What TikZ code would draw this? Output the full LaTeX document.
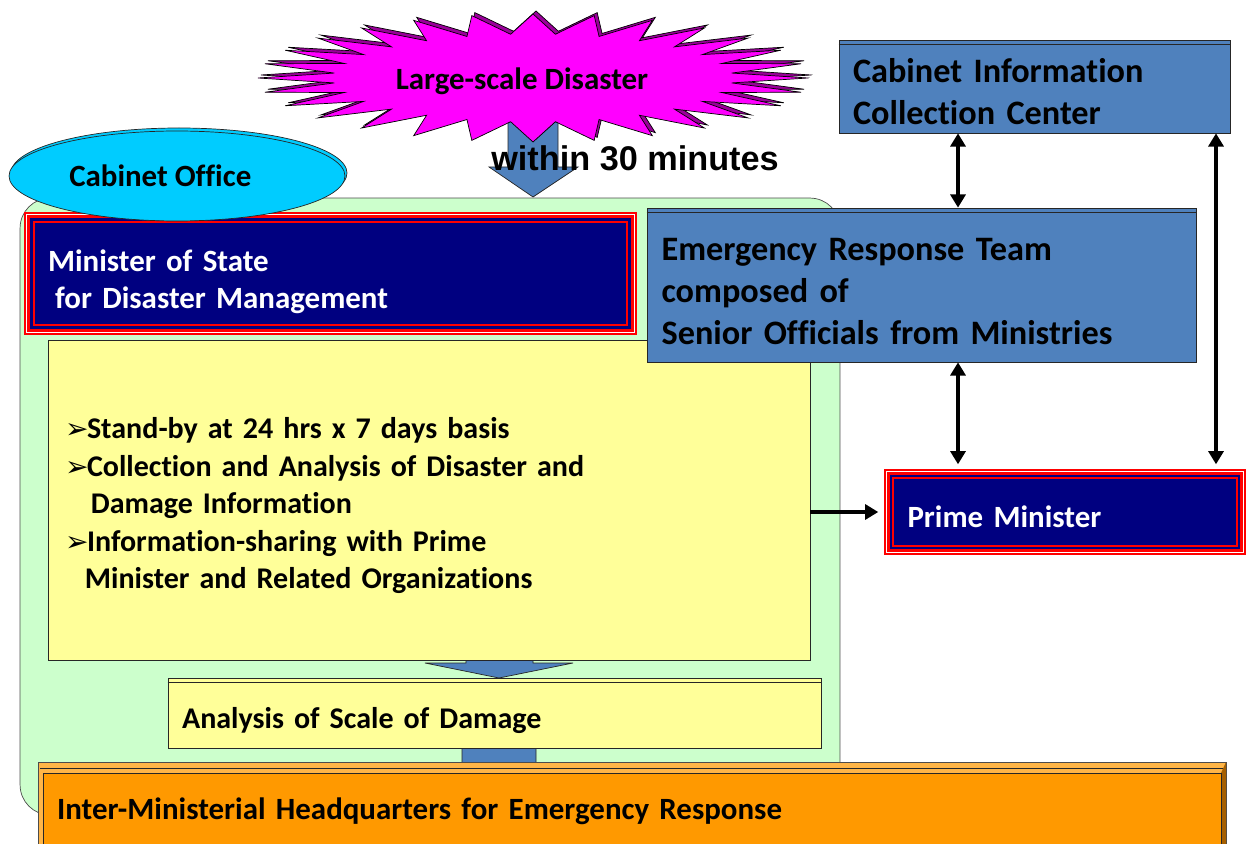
\documentclass[tikz,border=0pt]{standalone}
\usepackage{fontspec}
\setmainfont{Carlito}[Ligatures=NoCommon]
\newfontfamily\arialfont{Liberation Sans}
\newfontfamily\symfont{DejaVu Sans}
\usetikzlibrary{arrows.meta,shapes.geometric}
\definecolor{boxblue}{HTML}{4F81BD}
\definecolor{navyblue}{HTML}{000080}
\definecolor{paleyellow}{HTML}{FFFF99}
\definecolor{palegreen}{HTML}{CCFFCC}
\definecolor{skycyan}{HTML}{00CCFF}
\definecolor{burst}{HTML}{FF00FF}
\definecolor{hqorange}{HTML}{FF9900}
\definecolor{hqlight}{HTML}{FFB547}
\definecolor{hqdark}{HTML}{A65F00}
\newcommand{\bul}{\makebox[12.5pt][l]{\symfont\fontsize{16}{16}\selectfont ➢}}
\tikzset{
  bluebox/.style={draw=black!85, fill=boxblue, inner xsep=8pt, align=left,
    font=\bfseries\fontsize{19.5}{23.8}\selectfont},
  navybox/.style={draw=red, line width=0.8pt, fill=navyblue, text=white,
    inner xsep=8pt, align=left, font=\bfseries\fontsize{17.6}{21}\selectfont},
  yellowbox/.style={draw=black!85, fill=paleyellow, inner xsep=8pt, align=left,
    font=\bfseries\fontsize{17.1}{21.3}\selectfont},
  blockarrow/.style={draw=black!85, fill=boxblue},
  dblarrow/.style={{Triangle[length=7.5pt,width=8.5pt]}-{Triangle[length=7.5pt,width=8.5pt]},
    line width=2.2pt},
  onearrow/.style={-{Triangle[length=7.5pt,width=8.5pt]}, line width=2.2pt}
}
\begin{document}
\begin{tikzpicture}[x=0.02cm, y=-0.02cm]
  \useasboundingbox (0,0) rectangle (1246,844);

  % cabinet office area
  \node[draw=black!70, fill=palegreen, rounded corners=0.6cm, minimum width=16.4cm,
    minimum height=12.34cm] (area) at (430,506.5) {};

  % arrow from the disaster
  \draw[blockarrow] (508,120) -- (558,120) -- (558,167) -- (578,167) -- (533,197)
    -- (489,167) -- (508,167) -- cycle;

  % starburst
  \filldraw[fill=burst!60!black, draw=black] (811,75) \foreach \i in {1,3,...,55}
    {-- ({536+200*cos(\i*6.4286)}, {75+44*sin(\i*6.4286)})
     -- ({536+275*cos((\i+1)*6.4286)}, {75+64*sin((\i+1)*6.4286)})} -- cycle;
  \filldraw[fill=burst, draw=black] (808,78) \foreach \i in {1,3,...,55}
    {-- ({533+200*cos(\i*6.4286)}, {78+44*sin(\i*6.4286)})
     -- ({533+275*cos((\i+1)*6.4286)}, {78+64*sin((\i+1)*6.4286)})} -- cycle;
  \node[font=\bfseries\fontsize{17.6}{21}\selectfont] (disaster) at (522,81)
    {Large-scale Disaster};
  \node[font=\arialfont\bfseries\fontsize{19.5}{23}\selectfont] (within) at (635,158)
    {within 30 minutes};

  % arrows down the left column
  \draw[blockarrow] (466,630) -- (533,630) -- (533,663) -- (573,663) -- (499,678)
    -- (425,663) -- (466,663) -- cycle;
  \draw[blockarrow] (462,740) -- (536,740) -- (536,764) -- (573,764) -- (499,780)
    -- (425,764) -- (462,764) -- cycle;

  \node[yellowbox, minimum width=15.24cm, minimum height=6.4cm, text width=14.56cm]
    (duty) at (429,500)
    {\rule{0pt}{18.5pt}\bul Stand-by at 24 hrs x 7 days basis\\
     \bul Collection and Analysis of Disaster and\\
     \hspace*{14.7pt}Damage Information\\
     \bul Information-sharing with Prime\\
     \hspace*{11.3pt}Minister and Related Organizations};

  % minister of state
  \draw[red, line width=0.6pt, fill=white] (25,213) rectangle (636,334);
  \draw[red, line width=2pt, fill=navyblue] (28.5,216.5) rectangle (632.5,330.5);
  \node[navybox, minimum width=11.86cm, minimum height=2.06cm, text width=11.3cm]
    (mos) at (330.5,273.5)
    {\rule{0pt}{22pt}Minister of State\\ \hspace*{4pt}for Disaster Management};

  \draw[black!85, fill=skycyan] (179,173) ellipse (168 and 45);
  \node[draw=black!85, fill=skycyan, ellipse, minimum width=6.72cm, minimum height=1.8cm,
    font=\bfseries\fontsize{17.6}{21}\selectfont] (office) at (177,176)
    {Cabinet Office\hspace*{19pt}};

  \node[yellowbox, minimum width=13.06cm, minimum height=1.4cm, text width=12.5cm]
    (ana) at (494.5,713) {\rule{0pt}{20pt}Analysis of Scale of Damage};
  \draw[black!85] ([shift={(0,5)}]ana.north west) -- ([shift={(0,5)}]ana.north east);

  % headquarters
  \draw[black!70, fill=hqlight] (38,762) rectangle (1226,850);
  \fill[hqdark] (1221,773) -- (1226,762) -- (1226,850) -- (1221,850) -- cycle;
  \draw[black!85] (40,768) -- (1223,768);
  \node[yellowbox, fill=hqorange, font=\bfseries\fontsize{17.6}{21}\selectfont,
    minimum width=23.56cm, minimum height=1.54cm, text width=23cm] (hq) at (632,811.5)
    {Inter-Ministerial Headquarters for Emergency Response};

  % right side
  \node[bluebox, minimum width=7.78cm, minimum height=1.86cm, text width=7.26cm]
    (cicc) at (1034.5,86.5) {\rule{0pt}{19.5pt}Cabinet Information\\Collection Center};
  \draw[black!85] ([shift={(0,5)}]cicc.north west) -- ([shift={(0,5)}]cicc.north east);
  \node[bluebox, minimum width=10.98cm, minimum height=3.08cm, text width=10.4cm]
    (ert) at (921.5,285)
    {\rule{0pt}{20pt}Emergency Response Team\\composed of\\Senior Officials from Ministries};
  \draw[black!85] ([shift={(0,5)}]ert.north west) -- ([shift={(0,5)}]ert.north east);

  \draw[red, line width=0.6pt, fill=white] (885,470) rectangle (1245,554);
  \draw[red, line width=2pt, fill=navyblue] (888.5,473.5) rectangle (1241.5,550.5);
  \node[navybox, minimum width=6.88cm, minimum height=1.36cm, text width=6.3cm]
    (pm) at (1065,512) {\rule{0pt}{17.5pt}Prime Minister};

  \coordinate (xa) at (958,0);
  \coordinate (xb) at (1216,0);
  \draw[dblarrow] (xa |- cicc.south) -- (xa |- ert.north);
  \draw[dblarrow, shorten >=7.4pt] (xa |- ert.south) -- (xa |- pm.north);
  \draw[dblarrow, shorten >=7.4pt] (xb |- cicc.south) -- (xb |- pm.north);
  \draw[onearrow, shorten >=8pt] (duty.east |- pm.west) -- (pm.west);
\end{tikzpicture}
\end{document}
